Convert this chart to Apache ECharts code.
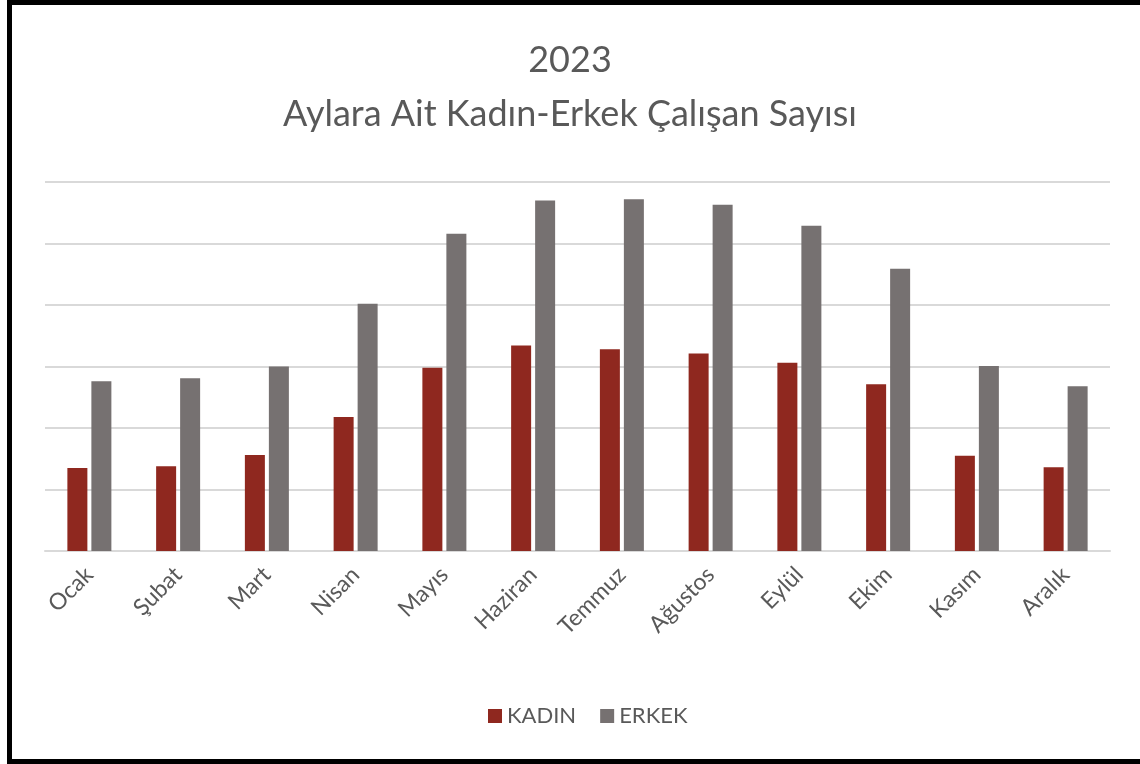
<!DOCTYPE html>
<html>
<head>
<meta charset="utf-8">
<script src="https://cdn.jsdelivr.net/npm/echarts@6/dist/echarts.min.js"></script>
<style>
    html, body { margin: 0; padding: 0; background: #fff; overflow: hidden; }
    #cerceve {
        position: absolute; left: 7px; top: 0px; width: 1160px; height: 764px;
        border: 5px solid #000; box-sizing: border-box;
    }
    #grafik { position: absolute; left: 0; top: 0; width: 1140px; height: 764px; }
</style>
</head>
<body>
<div id="cerceve"></div>
<div id="grafik"></div>
<script>
var aylar = ['Ocak', 'Şubat', 'Mart', 'Nisan', 'Mayıs', 'Haziran', 'Temmuz', 'Ağustos', 'Eylül', 'Ekim', 'Kasım', 'Aralık'];
var kadin = [13.5, 13.8, 15.6, 21.8, 29.8, 33.4, 32.8, 32.1, 30.6, 27.1, 15.5, 13.6];
var erkek = [27.6, 28.1, 30.0, 40.2, 51.6, 57.0, 57.2, 56.3, 52.9, 45.9, 30.1, 26.8];

window.onload = function () {
    var grafik = echarts.init(document.getElementById('grafik'));
    var yazi = '#595959';
    var secenek = {
        backgroundColor: 'transparent',
        title: {
            text: '2023\nAylara Ait Kadın-Erkek Çalışan Sayısı',
            left: 'center',
            top: 28,
            textStyle: {
                fontFamily: 'Lato',
                fontWeight: 'normal',
                fontSize: 36,
                lineHeight: 54,
                color: yazi
            }
        },
        legend: {
            bottom: 32,
            left: 483,
            itemWidth: 14,
            itemHeight: 14,
            itemGap: 24,
            icon: 'rect',
            textStyle: { color: yazi, fontSize: 22, fontFamily: 'Lato' },
            data: ['KADIN', 'ERKEK']
        },
        grid: {
            left: 45,
            right: 30,
            top: 182,
            bottom: 213
        },
        xAxis: {
            type: 'category',
            data: aylar,
            axisLine: { lineStyle: { color: '#d9d9d9', width: 2 } },  //alt çizgi
            axisTick: { show: false },
            axisLabel: {
                rotate: 45,
                color: yazi,
                fontSize: 23,
                fontFamily: 'Lato',
                margin: 20
            }
        },
        yAxis: {
            type: 'value',
            min: 0,
            max: 60,
            interval: 10,
            axisLabel: { show: false },
            axisLine: { show: false },
            axisTick: { show: false },
            splitLine: { lineStyle: { color: '#d9d9d9', width: 2 } }
        },
        series: [
            {
                name: 'KADIN',
                type: 'bar',
                barWidth: 20,
                barGap: '20%',
                itemStyle: { color: '#8f281f' },
                data: kadin
            },
            {
                name: 'ERKEK',
                type: 'bar',
                barWidth: 20,
                barGap: '20%',
                itemStyle: { color: '#767171' },
                data: erkek
            }
        ]
    };
    grafik.setOption(secenek);
};
</script>
</body>
</html>
